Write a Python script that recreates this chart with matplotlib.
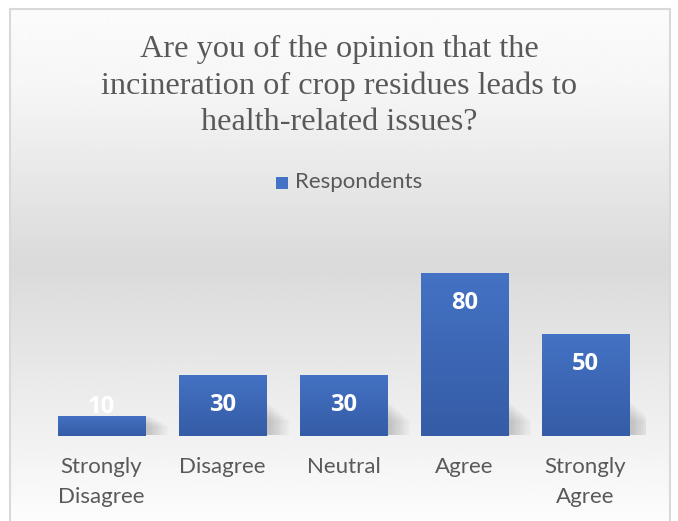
import numpy as np
import matplotlib
matplotlib.use("Agg")
import matplotlib.pyplot as plt
from matplotlib.patches import Rectangle

categories = ["Strongly\nDisagree", "Disagree", "Neutral", "Agree", "Strongly\nAgree"]
respondents = [10, 30, 30, 80, 50]
title = "Are you of the opinion that the\nincineration of crop residues leads to\nhealth-related issues?"

W, H = 678, 521
fig = plt.figure(figsize=(W / 100, H / 100), dpi=100)
fig.patch.set_facecolor("white")

# chart area background with vertical gradient
bg = fig.add_axes([10 / W, 0, 660 / W, (H - 9) / H])
yy = np.linspace(0, 1, 256)
# white at top, grey around the bars, white again at the bottom
shade = np.interp(yy, [0, 0.15, 0.5, 0.85, 1.0], [0.985, 0.965, 0.855, 0.95, 0.99])
grad = np.repeat(shade[:, None], 2, axis=1)
bg.imshow(grad, cmap="gray", vmin=0, vmax=1, aspect="auto", extent=[0, 1, 0, 1],
          interpolation="bicubic")
bg.set_xlim(0, 1)
bg.set_ylim(0, 1)
bg.set_xticks([])
bg.set_yticks([])
for s in bg.spines.values():
    s.set_color("#d9d9d9")
    s.set_linewidth(1.5)
bg.spines["bottom"].set_visible(False)

ax = fig.add_axes([41 / W, (H - 436) / H, 605 / W, 183.6 / H])
ax.patch.set_alpha(0)
x = np.arange(len(categories))
width = 0.72

# soft shadows to the right of each bar
for xi, v in zip(x, respondents):
    top = min(v, 16)
    for k in range(10):
        ax.add_patch(Rectangle((xi + width / 2, 0.5), 0.019 * (k + 1), top * (1 - k * 0.06),
                               facecolor="black", alpha=0.018, linewidth=0, zorder=1))

bars = ax.bar(x, respondents, width=width, color="#3f68b6", zorder=2)

# vertical gradient fill in each bar
bar_grad = np.linspace(0, 1, 100)[:, None]
cmap = matplotlib.colors.LinearSegmentedColormap.from_list("b", ["#4472c4", "#355ca6"])
for b in bars:
    x0, y0 = b.get_x(), b.get_y()
    im = ax.imshow(bar_grad, cmap=cmap, aspect="auto", zorder=3,
                   extent=[x0, x0 + b.get_width(), y0, y0 + b.get_height()])
    im.set_clip_path(b)

for xi, v in zip(x, respondents):
    ax.text(xi, max(v - 14.7, 14.2), str(v), ha="center", va="center", color="white",
            fontsize=17, fontweight="bold", family="Open Sans", zorder=4)

ax.set_xlim(-0.5, len(categories) - 0.5)
ax.set_ylim(0, 90)
ax.set_xticks(x)
ax.set_xticklabels(categories, fontsize=16, family="Lato", color="#595959", linespacing=1.65)
ax.tick_params(axis="x", length=0, pad=15)
ax.set_yticks([])
for s in ax.spines.values():
    s.set_visible(False)

fig.text(0.5, 1 - 86 / H, title, ha="center", va="center", fontsize=23.2,
         family="Liberation Serif", color="#595959", linespacing=1.32)

fig.patches.append(Rectangle((276 / W, 1 - 189 / H), 12 / W, 12 / H, transform=fig.transFigure,
                             facecolor="#4472c4", edgecolor="none"))
fig.text(295 / W, 1 - 182 / H, "Respondents", ha="left", va="center", fontsize=16,
         family="Lato", color="#595959")

fig.savefig("out.png", dpi=100)
